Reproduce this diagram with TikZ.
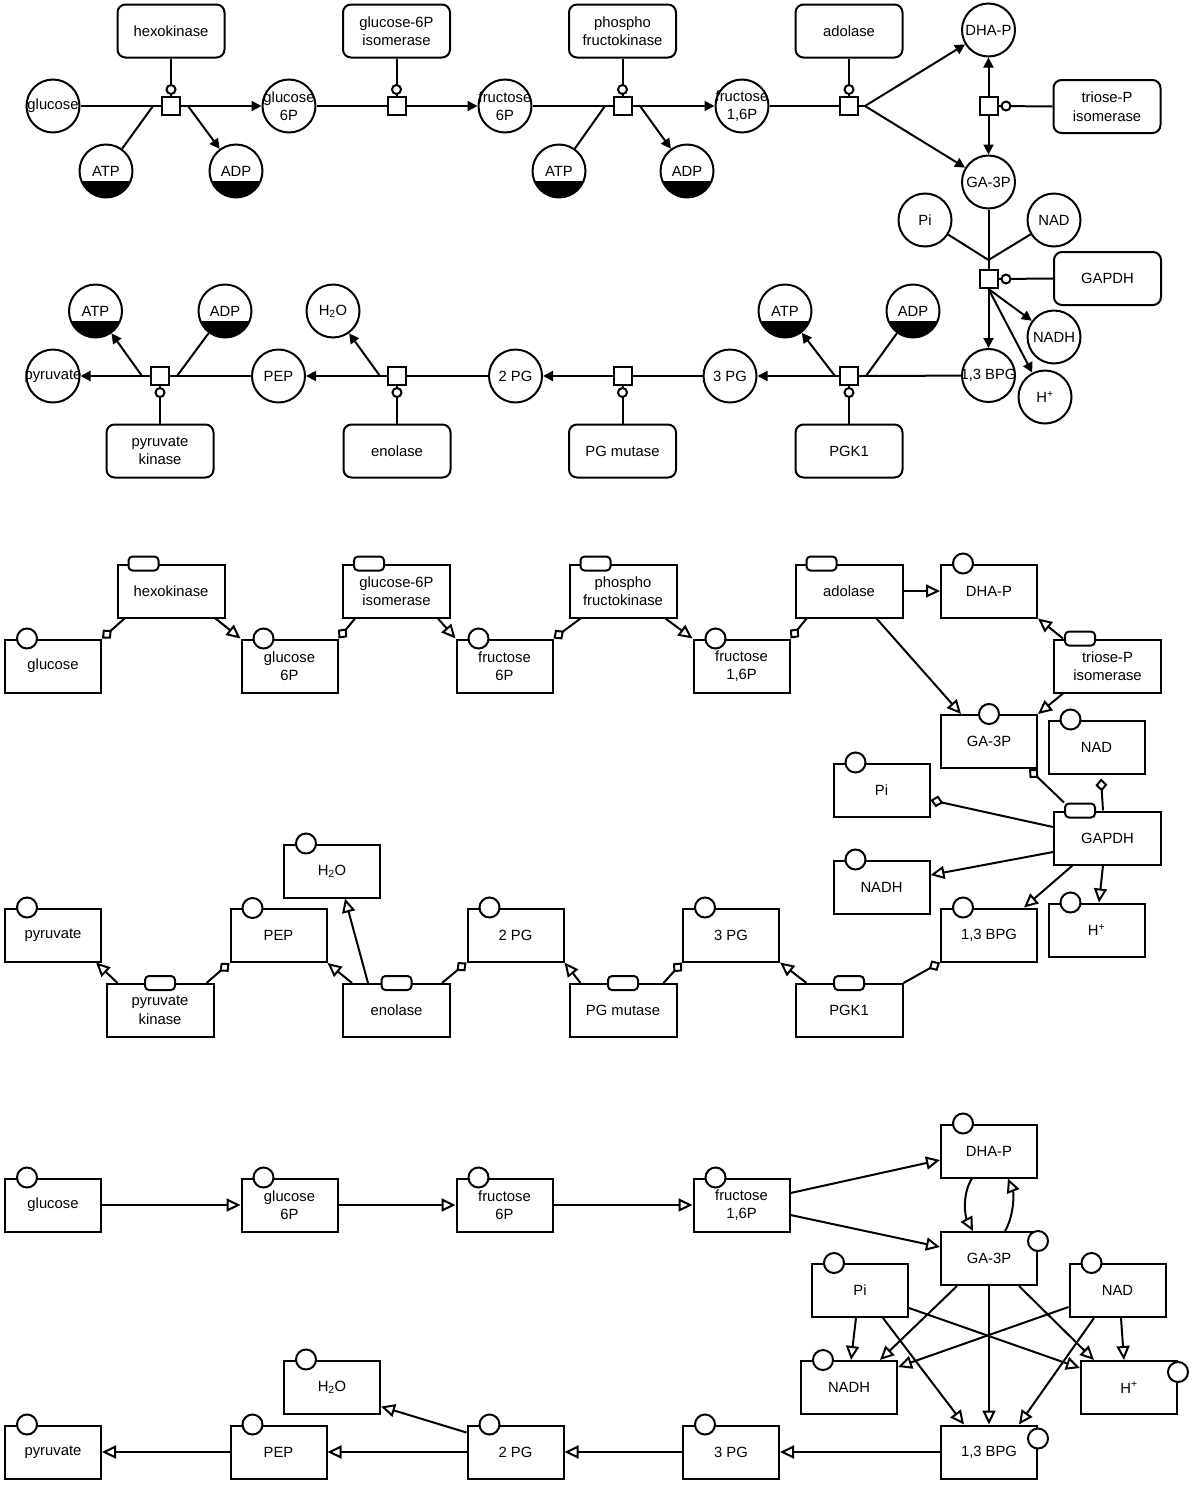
\documentclass[tikz,border=0pt]{standalone}
\usepackage{fontspec}
\setmainfont{Liberation Sans}
\usetikzlibrary{arrows.meta}
\newcommand{\Met}[4][metab]{\node[#1] (#2) at (#3) {}; \node (#2t) at (#2) {#4};}
\begin{document}
\begin{tikzpicture}[x=1pt,y=-1pt,
  every node/.style={font=\fontsize{14.8}{18.5}\selectfont, align=center, inner sep=0pt},
  lw/.style={line width=2pt},
  metab/.style={draw, circle, minimum size=53pt, fill=white, line width=2pt},
  halfmet/.style={metab, path picture={\fill[black] (path picture bounding box.south west) rectangle ([yshift=-10pt]path picture bounding box.east);}},
  procsq/.style={draw, rectangle, minimum size=18pt, fill=white, line width=2pt},
  modcirc/.style={draw, circle, minimum size=9pt, fill=white, line width=2pt},
  enzround/.style={draw, rectangle, rounded corners=8pt, minimum width=107pt, minimum height=53pt, line width=2pt},
  subbox/.style={draw, rectangle, minimum width=96pt, minimum height=53pt, line width=2pt},
  enzbox/.style={draw, rectangle, minimum width=107pt, minimum height=53pt, line width=2pt},
  markcirc/.style={draw, circle, minimum size=20pt, fill=white, line width=2pt},
  tagbox/.style={draw, rectangle, rounded corners=4pt, minimum width=30pt, minimum height=14pt, fill=white, line width=2pt},
  filledarr/.style={lw, -{Triangle[length=10pt,width=10pt]}},
  openarr/.style={lw, -{Triangle[open,length=14pt,width=13pt]}},
  diamarr/.style={lw, -{Diamond[open,length=13pt,width=12pt]}},
]
\useasboundingbox (0,0) rectangle (1200,1489);

%%%%%%%%%%%%%%%% PANEL 1 %%%%%%%%%%%%%%%%
% row 1
\Met{glc1}{53,106}{glucose}
\node[enzround] (hk1) at (171,31) {hexokinase};
\node[procsq] (p1) at (171,106) {};
\Met[halfmet]{atp1}{106,171}{ATP}
\Met[halfmet]{adp1}{236,171}{ADP}
\Met{g6p1}{289,106}{glucose\\6P}
\node[enzround] (gpi1) at (396.5,31) {glucose-6P\\isomerase};
\node[procsq] (p2) at (396.5,106) {};
\Met{f6p1}{505,106}{fructose\\6P}
\node[enzround] (pfk1) at (622.5,31) {phospho\\fructokinase};
\node[procsq] (p3) at (622.5,106) {};
\Met[halfmet]{atp2}{559,171}{ATP}
\Met[halfmet]{adp2}{687,171}{ADP}
\Met{f16p1}{742,106}{fructose\\1,6P}
\node[enzround] (ald1) at (849,31) {adolase};
\node[procsq] (p4) at (849,106) {};
\Met{dhap1}{988.5,30}{DHA-P}
\Met{ga3p1}{988.5,182}{GA-3P}
\node[procsq] (p5) at (988.5,106) {};
\node[enzround] (tpi1) at (1107,106.5) {triose-P\\isomerase};
\Met{pi1}{925,220}{Pi}
\Met{nad1}{1054,220}{NAD}
\node[procsq] (p6) at (988.5,279) {};
\node[enzround] (gapdh1) at (1107.5,278.5) {GAPDH};
\Met{bpg1}{988.5,375.5}{1,3 BPG}
\Met{nadh1}{1054,337}{NADH}
\Met{hp1}{1045,397}{H\textsuperscript{+}}
% row 2
\node[procsq] (p7) at (849,376) {};
\node[enzround] (pgk1) at (849,451) {PGK1};
\Met[halfmet]{atp3}{785,311}{ATP}
\Met[halfmet]{adp3}{913,311}{ADP}
\Met{pg3a}{730,376}{3 PG}
\node[procsq] (p8) at (622.5,376) {};
\node[enzround] (pgm1) at (622.5,451) {PG mutase};
\Met{pg2a}{515.5,376}{2 PG}
\node[procsq] (p9) at (397,376) {};
\node[enzround] (eno1) at (397,451) {enolase};
\Met{water1}{333,311}{H\textsubscript{2}O}
\Met{pep1}{278.5,376}{PEP}
\node[procsq] (p10) at (160,376) {};
\node[enzround] (pk1) at (160,451) {pyruvate\\kinase};
\Met[halfmet]{atp4}{95.5,311}{ATP}
\Met[halfmet]{adp4}{225,311}{ADP}
\Met{pyr1}{53,376}{pyruvate}

\coordinate (a1) at (153,106);
\coordinate (b1) at (188,106);
\coordinate (a3) at (605,106);
\coordinate (b3) at (640,106);
\coordinate (br4) at (865,106);
\coordinate (j6) at (988.5,260);
\coordinate (a7) at (866,376);
\coordinate (b7) at (835,376);
\coordinate (b9) at (380,376);
\coordinate (a10) at (177,376);
\coordinate (b10) at (142,376);

% connectors row 1
\draw[lw] (hk1.south) -- (p1.north);
\draw[lw] (glc1) -- (p1.west);
\draw[lw] (atp1) -- (a1);
\draw[filledarr] (b1) -- (adp1);
\draw[filledarr] (p1.east) -- (g6p1);
\draw[lw] (gpi1.south) -- (p2.north);
\draw[lw] (g6p1) -- (p2.west);
\draw[filledarr] (p2.east) -- (f6p1);
\draw[lw] (pfk1.south) -- (p3.north);
\draw[lw] (f6p1) -- (p3.west);
\draw[lw] (atp2) -- (a3);
\draw[filledarr] (b3) -- (adp2);
\draw[filledarr] (p3.east) -- (f16p1);
\draw[lw] (ald1.south) -- (p4.north);
\draw[lw] (f16p1) -- (p4.west);
\draw[lw] (p4.east) -- (br4);
\draw[filledarr] (br4) -- (dhap1);
\draw[filledarr] (br4) -- (ga3p1);
\draw[filledarr] (p5.north) -- (dhap1);
\draw[filledarr] (p5.south) -- (ga3p1);
\draw[lw] (tpi1.west) -- (p5.east);
\draw[lw] (ga3p1) -- (j6) -- (p6.north);
\draw[lw] (pi1) -- (j6);
\draw[lw] (nad1) -- (j6);
\draw[lw] (gapdh1.west) -- (p6.east);
\draw[filledarr] (p6.south) -- (bpg1);
\draw[filledarr] (p6.south) -- (nadh1);
\draw[filledarr] (p6.south) -- (hp1);
% connectors row 2
\draw[lw] (bpg1) -- (p7.east);
\draw[lw] (adp3) -- (a7);
\draw[filledarr] (b7) -- (atp3);
\draw[filledarr] (p7.west) -- (pg3a);
\draw[lw] (pgk1.north) -- (p7.south);
\draw[lw] (pg3a) -- (p8.east);
\draw[filledarr] (p8.west) -- (pg2a);
\draw[lw] (pgm1.north) -- (p8.south);
\draw[lw] (pg2a) -- (p9.east);
\draw[filledarr] (b9) -- (water1);
\draw[filledarr] (p9.west) -- (pep1);
\draw[lw] (eno1.north) -- (p9.south);
\draw[lw] (pep1) -- (p10.east);
\draw[lw] (adp4) -- (a10);
\draw[filledarr] (b10) -- (atp4);
\draw[filledarr] (p10.west) -- (pyr1);
\draw[lw] (pk1.north) -- (p10.south);
% modifier circles
\node[modcirc] (m1) at (171,89.5) {};
\node[modcirc] (m2) at (396.5,89.5) {};
\node[modcirc] (m3) at (622.5,89.5) {};
\node[modcirc] (m4) at (849,89.5) {};
\node[modcirc] (m5) at (1006,106) {};
\node[modcirc] (m6) at (1006,279) {};
\node[modcirc] (m7) at (849,392.5) {};
\node[modcirc] (m8) at (622.5,392.5) {};
\node[modcirc] (m9) at (397,392.5) {};
\node[modcirc] (m10) at (160,392.5) {};

%%%%%%%%%%%%%%%% PANEL 2 %%%%%%%%%%%%%%%%
\node[subbox] (glc2) at (53,666) {glucose};
\node[enzbox] (hk2) at (171,591) {hexokinase};
\node[subbox] (g6p2) at (289.5,666) {glucose\\6P};
\node[enzbox] (gpi2) at (396.5,591) {glucose-6P\\isomerase};
\node[subbox] (f6p2) at (504.5,666) {fructose\\6P};
\node[enzbox] (pfk2) at (623,591) {phospho\\fructokinase};
\node[subbox] (f16p2) at (741.5,666) {fructose\\1,6P};
\node[enzbox] (ald2) at (849,591) {adolase};
\node[subbox] (dhap2) at (989,591) {DHA-P};
\node[enzbox] (tpi2) at (1107.5,666) {triose-P\\isomerase};
\node[subbox] (ga3p2) at (989,741.5) {GA-3P};
\node[subbox] (nad2) at (1096.5,747) {NAD};
\node[subbox] (pi2) at (881.5,790) {Pi};
\node[enzbox] (gapdh2) at (1107.5,838) {GAPDH};
\node[subbox] (nadh2) at (881.5,887) {NADH};
\node[subbox] (bpg2) at (989,935) {1,3 BPG};
\node[subbox] (h2) at (1096.5,930) {H\textsuperscript{+}};
\node[subbox] (pyr2) at (53,935) {pyruvate};
\node[enzbox] (pk2) at (160,1010.5) {pyruvate\\kinase};
\node[subbox] (pep2) at (278.5,935.5) {PEP};
\node[subbox] (water2) at (332,871) {H\textsubscript{2}O};
\node[enzbox] (eno2) at (396.5,1010.5) {enolase};
\node[subbox] (pg2b) at (515.5,935) {2 PG};
\node[enzbox] (pgm2) at (623,1010.5) {PG mutase};
\node[subbox] (pg3b) at (731,935) {3 PG};
\node[enzbox] (pgk2) at (849,1010.5) {PGK1};

% markers
\foreach \n in {glc2,g6p2,f6p2,f16p2,dhap2,nad2,pi2,nadh2,bpg2,h2,pyr2,pep2,water2,pg2b,pg3b}
  \node[markcirc] (\n c) at ([xshift=23pt]\n.north west) {};
\node[markcirc] (ga3p2c) at (ga3p2.north) {};
\foreach \n in {hk2,gpi2,pfk2,ald2,tpi2,gapdh2}
  \node[tagbox] (\n g) at ([xshift=27pt]\n.north west) {};
\foreach \n in {pk2,eno2,pgm2,pgk2}
  \node[tagbox] (\n g) at (\n.north) {};

% connectors
\draw[diamarr] ([xshift=8pt]hk2.south west) -- (glc2.north east);
\draw[openarr] ([xshift=-10pt]hk2.south east) -- (g6p2.north west);
\draw[diamarr] ([xshift=13pt]gpi2.south west) -- (g6p2.north east);
\draw[openarr] ([xshift=-13pt]gpi2.south east) -- (f6p2.north west);
\draw[diamarr] ([xshift=12pt]pfk2.south west) -- (f6p2.north east);
\draw[openarr] ([xshift=-12pt]pfk2.south east) -- (f16p2.north west);
\draw[diamarr] ([xshift=12pt]ald2.south west) -- (f16p2.north east);
\draw[openarr] (ald2.east) -- (dhap2.west);
\draw[openarr] ([xshift=-27pt]ald2.south east) -- ([xshift=21pt]ga3p2.north west);
\draw[openarr] ([xshift=10pt]tpi2.north west) -- (dhap2.south east);
\draw[openarr] ([xshift=10pt]tpi2.south west) -- (ga3p2.north east);
\draw[diamarr] (gapdh2g.north west) -- ([xshift=-9pt]ga3p2.south east);
\draw[diamarr] ([xshift=-4.5pt]gapdh2.north) -- ([xshift=4.5pt,yshift=-4pt]nad2.south);
\draw[diamarr] ([yshift=11pt]gapdh2.west) -- ([yshift=-10pt]pi2.east);
\draw[openarr] ([yshift=-14pt]gapdh2.west) -- ([yshift=12pt]nadh2.east);
\draw[openarr] ([xshift=-35pt]gapdh2.south) -- ([xshift=-14pt]bpg2.north east);
\draw[openarr] ([xshift=-4.5pt]gapdh2.south) -- ([xshift=2.5pt]h2.north);
\draw[diamarr] (pgk2.north east) -- (bpg2.south west);
\draw[openarr] ([xshift=12pt]pgk2.north west) -- (pg3b.south east);
\draw[diamarr] ([xshift=-14pt]pgm2.north east) -- (pg3b.south west);
\draw[openarr] ([xshift=12pt]pgm2.north west) -- (pg2b.south east);
\draw[diamarr] ([xshift=-9pt]eno2.north east) -- (pg2b.south west);
\draw[openarr] ([xshift=10pt]eno2.north west) -- (pep2.south east);
\draw[openarr] ([xshift=26pt]eno2.north west) -- ([xshift=13pt]water2.south);
\draw[diamarr] ([xshift=-8pt]pk2.north east) -- (pep2.south west);
\draw[openarr] ([xshift=12pt]pk2.north west) -- ([xshift=-6pt]pyr2.south east);

%%%%%%%%%%%%%%%% PANEL 3 %%%%%%%%%%%%%%%%
\node[subbox] (glc3) at (53,1205) {glucose};
\node[subbox] (g6p3) at (289.5,1205) {glucose\\6P};
\node[subbox] (f6p3) at (504.5,1205) {fructose\\6P};
\node[subbox] (f16p3) at (741.5,1205) {fructose\\1,6P};
\node[subbox] (dhap3) at (989,1151) {DHA-P};
\node[subbox] (ga3p3) at (989,1258.5) {GA-3P};
\node[subbox] (pi3) at (860,1290.5) {Pi};
\node[subbox] (nad3) at (1117.5,1290.5) {NAD};
\node[subbox] (nadh3) at (849,1387.5) {NADH};
\node[subbox] (h3) at (1129,1387.5) {H\textsuperscript{+}};
\node[subbox] (bpg3) at (989,1452) {1,3 BPG};
\node[subbox] (pg3c) at (731,1452) {3 PG};
\node[subbox] (pg2c) at (515.5,1452) {2 PG};
\node[subbox] (pep3) at (278.5,1452) {PEP};
\node[subbox] (water3) at (332,1387) {H\textsubscript{2}O};
\node[subbox] (pyr3) at (53,1452) {pyruvate};

\foreach \n in {glc3,g6p3,f6p3,f16p3,dhap3,pi3,nad3,nadh3,pg3c,pg2c,pep3,water3,pyr3}
  \node[markcirc] (\n c) at ([xshift=23pt]\n.north west) {};
\node[markcirc] (ga3p3c) at ([yshift=-10pt]ga3p3.north east) {};
\node[markcirc] (h3c) at ([yshift=-12pt]h3.north east) {};
\node[markcirc] (bpg3c) at ([yshift=-14pt]bpg3.north east) {};

\draw[openarr] (glc3.east) -- (g6p3.west);
\draw[openarr] (g6p3.east) -- (f6p3.west);
\draw[openarr] (f6p3.east) -- (f16p3.west);
\draw[openarr] ([yshift=12pt]f16p3.east) -- ([yshift=-9pt]dhap3.west);
\draw[openarr] ([yshift=-10pt]f16p3.east) -- ([yshift=11.5pt]ga3p3.west);
\draw[openarr] ([xshift=-17pt]dhap3.south) .. controls +(-10,15) and +(-8,-15) .. ([xshift=-16pt]ga3p3.north);
\draw[openarr] ([xshift=16pt]ga3p3.north) .. controls +(9,-15) and +(6,15) .. ([xshift=19pt]dhap3.south);
\draw[openarr] ([xshift=-32pt]ga3p3.south) -- ([xshift=-18pt]nadh3.north east);
\draw[openarr] (ga3p3.south) -- (bpg3.north);
\draw[openarr] ([xshift=30pt]ga3p3.south) -- ([xshift=14pt]h3.north west);
\draw[openarr] ([xshift=-4pt]pi3.south) -- ([xshift=2pt]nadh3.north);
\draw[openarr] ([xshift=23pt]pi3.south) -- ([xshift=24pt]bpg3.north west);
\draw[openarr] ([yshift=-17.5pt]pi3.east) -- ([yshift=19.5pt]h3.west);
\draw[openarr] ([yshift=-16.5pt]nad3.west) -- ([yshift=20.5pt]nadh3.east);
\draw[openarr] ([xshift=-23.5pt]nad3.south) -- ([xshift=-19pt]bpg3.north east);
\draw[openarr] ([xshift=3.5pt]nad3.south) -- ([xshift=-5pt]h3.north);
\draw[openarr] (bpg3.west) -- (pg3c.east);
\draw[openarr] (pg3c.west) -- (pg2c.east);
\draw[openarr] (pg2c.west) -- (pep3.east);
\draw[openarr] ([yshift=-8pt]pg2c.north west) -- ([yshift=8pt]water3.south east);
\draw[openarr] (pep3.west) -- (pyr3.east);
\end{tikzpicture}
\end{document}
